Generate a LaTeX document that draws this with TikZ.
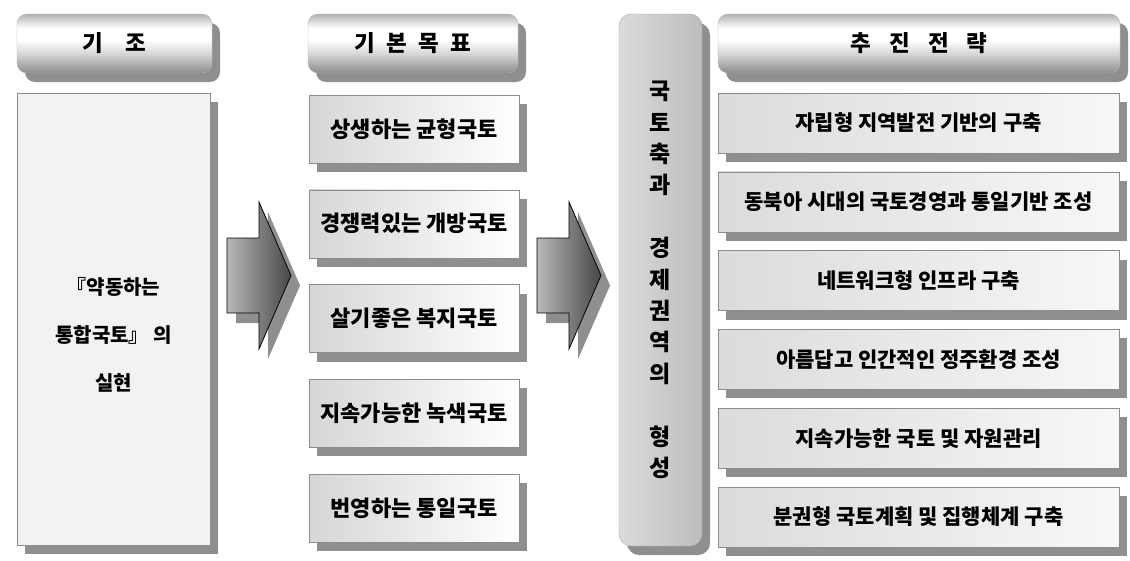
\documentclass[tikz,border=0pt]{standalone}
\usepackage{fontspec}
\setmainfont{Noto Sans CJK KR}
\usetikzlibrary{shadows}
\definecolor{shadowgray}{gray}{0.56}
\definecolor{boxline}{gray}{0.55}
\pgfdeclareverticalshading{headshade}{100bp}{color(0bp)=(black!45); color(25bp)=(black!45); color(40bp)=(black!18); color(53bp)=(white); color(63bp)=(white); color(75bp)=(black!30); color(100bp)=(black!30)}
\tikzset{
  shade box/.style={drop shadow={shadow xshift=8pt,shadow yshift=-9pt,fill=shadowgray,opacity=1}},
  headbox/.style={shade box,rounded corners=10pt,shade,shading=headshade,draw=black!30,
    minimum height=59pt,inner sep=0pt,font=\fontsize{22.5}{22.5}\selectfont\bfseries},
  goalbox/.style={shade box,draw=boxline,left color=black!16,right color=white,
    minimum width=210pt,minimum height=68pt,inner sep=0pt,font=\fontsize{22}{22}\selectfont\bfseries},
  stratbox/.style={shade box,draw=boxline,left color=black!14,right color=black!3,
    minimum width=401pt,minimum height=60pt,inner sep=0pt,font=\fontsize{21}{21}\selectfont\bfseries},
  basebox/.style={shade box,draw=boxline,fill=black!5,inner sep=0pt},
  axisbox/.style={shade box,rounded corners=12pt,draw=black!35,left color=black!14,right color=black!26,inner sep=0pt},
  flowarrow/.style={draw=black,line width=0.8pt,left color=black!28,right color=black!72}
}

\begin{document}
\begin{tikzpicture}[x=1pt,y=-1pt]
  \useasboundingbox (0,0) rectangle (1130,560);

  % column headers
  \node[headbox,minimum width=195pt] (hbase) at (114.5,43.5) {기\hspace{1em}조};
  \node[headbox,minimum width=210pt] (hgoal) at (413,43.5) {기\hspace{0.5em}본\hspace{0.5em}목\hspace{0.5em}표};
  \node[headbox,minimum width=402pt] (hstrat) at (919,43.5) {추\hspace{0.8em}진\hspace{0.8em}전\hspace{0.8em}략};

  % basis
  \node[basebox,minimum width=193pt,minimum height=452pt] (base) at (113.5,319) {};
  \node[align=center,font=\fontsize{20}{48}\selectfont\bfseries] (basetxt) at (113.5,335) {『약동하는\\통합국토』 의\\실현};

  % goals
  \foreach \txt [count=\i] in {상생하는 균형국토,경쟁력있는 개방국토,살기좋은 복지국토,지속가능한 녹색국토,번영하는 통일국토}
    \node[goalbox] (g\i) at (414,{129+94.75*(\i-1)}) {\txt};

  % axis pillar
  \node[axisbox,minimum width=83pt,minimum height=532pt,align=center,
    font=\fontsize{23}{31.4}\selectfont\bfseries] (axis) at (660.5,280)
    {국\\토\\축\\과\\[31.4pt]경\\제\\권\\역\\의\\[31.4pt]형\\성};

  % strategies
  \foreach \txt [count=\i] in {자립형 지역발전 기반의 구축,동북아 시대의 국토경영과 통일기반 조성,네트워크형 인프라 구축,아름답고 인간적인 정주환경 조성,지속가능한 국토 및 자원관리,분권형 국토계획 및 집행체계 구축}
    \node[stratbox] (s\i) at (918.5,{123+78.8*(\i-1)}) {\txt};

  % block arrows
  \foreach \ax in {227,537} {
    \fill[shadowgray] ({\ax+9},248) -- ++(32,0) -- ++(0,-36) -- ++(32,73.5) -- ++(-32,73.5) -- ++(0,-36) -- ++(-32,0) -- cycle;
    \shadedraw[flowarrow] (\ax,238) -- ++(32,0) -- ++(0,-36) -- ++(32,73.5) -- ++(-32,73.5) -- ++(0,-36) -- ++(-32,0) -- cycle;
  }
\end{tikzpicture}
\end{document}
